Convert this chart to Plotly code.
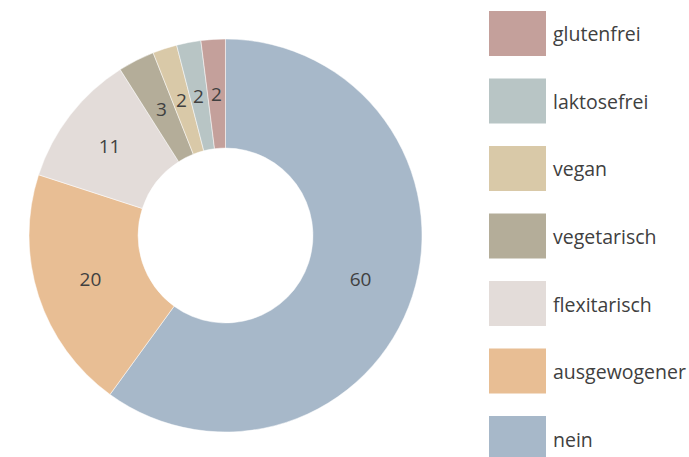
import math
import plotly.graph_objects as go

labels = ["nein", "ausgewogener", "flexitarisch", "vegetarisch", "vegan", "laktosefrei", "glutenfrei"]
values = [60, 20, 11, 3, 2, 2, 2]
colors = ["#A7B8C9", "#E8BE94", "#E3DCD9", "#B4AD99", "#D9C9A8", "#B8C5C5", "#C4A09B"]

W, H = 689, 457
FONT = "Open Sans, Lato, sans-serif"
TXT = "#404040"
cx, cy, r_out = 225.5, 235.5, 196.5
hole = 0.445

fig = go.Figure()
fig.add_trace(go.Pie(
    labels=labels, values=values, sort=False, direction="clockwise", rotation=0,
    hole=hole, marker=dict(colors=colors, line=dict(color="white", width=0.5)),
    texttemplate=["%{value}" if v >= 5 else "" for v in values],
    textposition="inside", insidetextorientation="horizontal",
    textfont=dict(family=FONT, size=19, color=TXT),
    domain=dict(x=[(cx - r_out) / W, (cx + r_out) / W], y=[1 - (cy + r_out) / H, 1 - (cy - r_out) / H]),
    showlegend=False, hoverinfo="label+value",
))

# labels of thin slices, placed at mid-ring (like the original)
total = sum(values)
r_mid = r_out * (1 + hole) / 2
cum = 0
for v in values:
    mid = (cum + v / 2) / total * 2 * math.pi
    cum += v
    if v >= 5:
        continue
    px = cx + r_mid * math.sin(mid)
    py = cy - r_mid * math.cos(mid)
    fig.add_annotation(xref="paper", yref="paper", x=px / W, y=1 - py / H, text=str(v),
                       showarrow=False, xanchor="center", yanchor="middle",
                       font=dict(family=FONT, size=19, color=TXT))

# custom legend (reverse order)
legend_labels = labels[::-1]
legend_colors = colors[::-1]
for i, (lab, col) in enumerate(zip(legend_labels, legend_colors)):
    top = 11 + i * 67.5
    fig.add_shape(type="rect", xref="paper", yref="paper",
                  x0=489 / W, x1=546 / W, y0=1 - (top + 45) / H, y1=1 - top / H,
                  fillcolor=col, line=dict(width=0))
    fig.add_annotation(xref="paper", yref="paper", x=551 / W, y=1 - (top + 23) / H,
                       text=lab, showarrow=False, xanchor="left", yanchor="middle",
                       font=dict(family=FONT, size=19.5, color=TXT))

fig.update_layout(width=W, height=H, margin=dict(l=0, r=0, t=0, b=0),
                  paper_bgcolor="white", plot_bgcolor="white")
fig.write_html("out.html", config={"displayModeBar": False},
               post_script="document.body.style.margin='0';")
